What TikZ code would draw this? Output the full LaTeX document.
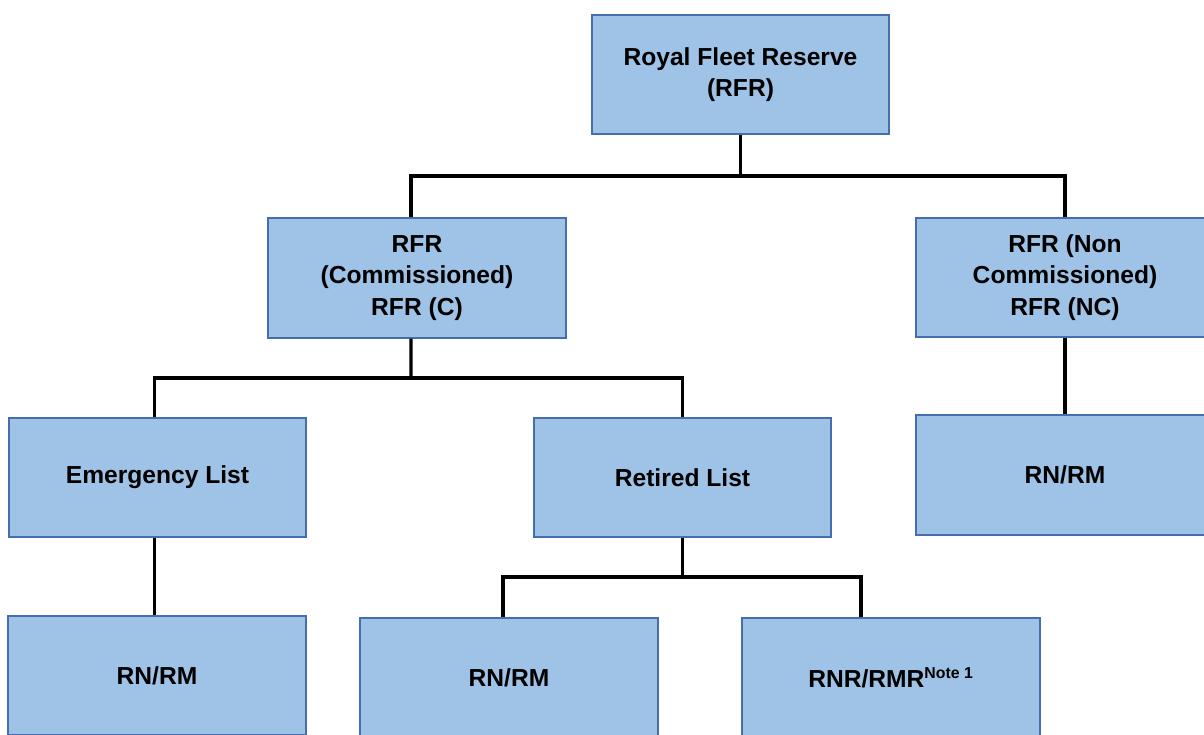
\documentclass[tikz,border=0pt]{standalone}
\usepackage{fontspec}
\setmainfont{Liberation Sans}
\definecolor{boxfill}{RGB}{159,195,230}
\definecolor{boxline}{RGB}{70,110,175}
\begin{document}
\begin{tikzpicture}[semithick,
  unit/.style ={draw=boxline,line width=1pt,fill=boxfill,minimum width=5.95cm,minimum height=2.39cm,
    align=center,font=\fontsize{14}{18}\selectfont\bfseries,inner sep=2pt},
  link/.style ={line width=1.8pt,black}]
\clip (0,0) rectangle (24.08,-14.68);
\useasboundingbox (0,0) rectangle (24.08,-14.68);

\node[unit] (RFR) at (14.81,-1.49) {Royal Fleet Reserve\\(RFR)};
\node[unit] (RFRC) at (8.34,-5.56) {RFR\\(Commissioned)\\RFR (C)};
\node[unit] (RFRNC) at (21.30,-5.55) {RFR (Non\\Commissioned)\\RFR (NC)};
\node[unit] (EL) at (3.15,-9.55) {Emergency List};
\node[unit] (RL) at (13.65,-9.55) {Retired List};
\node[unit] (NCRN) at (21.30,-9.50) {RN/RM};
\node[unit] (ELRN) at (3.14,-13.51) {RN/RM};
\node[unit] (RLRN) at (10.18,-13.55) {RN/RM};
\node[unit] (RLRNR) at (17.82,-13.55) {RNR/RMR\textsuperscript{\fontsize{9}{9}\selectfont Note 1}};

% top level
\coordinate (J1) at (14.81,-3.52);
\draw[link] (RFR.south) -- (J1);
\draw[link] (J1) -| ([xshift=-0.12cm]RFRC.north);
\draw[link] (J1) -| (RFRNC.north);

% commissioned
\coordinate (J2) at (8.22,-7.56);
\draw[link] ([xshift=-0.12cm]RFRC.south) -- (J2);
\draw[link] (J2) -| ([xshift=-0.06cm]EL.north);
\draw[link] (J2) -| (RL.north);

% non commissioned
\draw[link] (RFRNC.south) -- (NCRN.north);

% lists
\draw[link] ([xshift=-0.06cm]EL.south) -- ([xshift=-0.06cm]EL.south |- ELRN.north);
\coordinate (J3) at (13.65,-11.54);
\draw[link] (RL.south) -- (J3);
\draw[link] (J3) -| ([xshift=-0.12cm]RLRN.north);
\draw[link] (J3) -| ([xshift=-0.6cm]RLRNR.north);
\end{tikzpicture}
\end{document}
